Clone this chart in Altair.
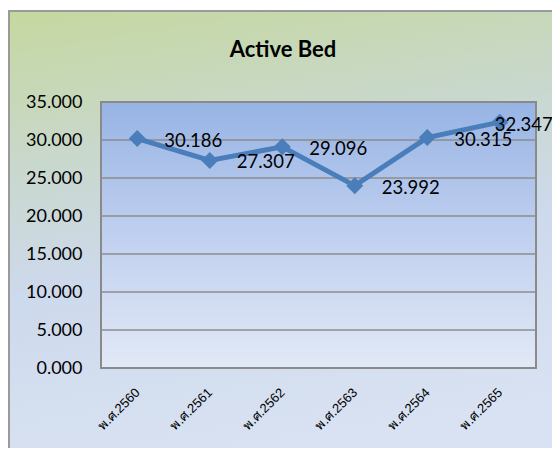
import altair as alt
import pandas as pd

categories = ["พ.ศ.2560", "พ.ศ.2561", "พ.ศ.2562", "พ.ศ.2563", "พ.ศ.2564", "พ.ศ.2565"]
values = [30.186, 27.307, 29.096, 23.992, 30.315, 32.347]
y_ticks = [0, 5, 10, 15, 20, 25, 30, 35]
grid_values = [5, 10, 15, 20, 25, 30]
title_text = "Active Bed"

df = pd.DataFrame({"cat": categories, "val": values})
grid_df = pd.DataFrame({"g": grid_values})

W, H = 435, 266
PL, PT = 93, 94
PR = 544 - PL - W
PB = 440 - PT - H

FONT = "Lato"
LINE = "#4a7ebb"

xenc = alt.X("cat:N", sort=categories, title=None,
             scale=alt.Scale(paddingInner=0, paddingOuter=0.5),
             axis=alt.Axis(labelAngle=-45, labelAlign="right", labelBaseline="middle",
                           labelFontSize=13, labelColor="#000", labelOverlap=False,
                           ticks=False, domain=False, grid=False, labelPadding=22, zindex=1))
yscale = alt.Scale(domain=[0, 35], nice=False, zero=True)
yaxis = alt.Axis(values=y_ticks, format=".3f", labelFontSize=18, labelFont=FONT,
                 labelColor="#000", ticks=False, domain=False, grid=False,
                 labelOverlap=False, labelPadding=19, zindex=1)
yenc = alt.Y("val:Q", scale=yscale, title=None, axis=yaxis)

outer_grad = alt.Gradient(gradient="linear", x1=0, y1=0, x2=0.2, y2=1, stops=[
    alt.GradientStop(color="#c5d89f", offset=0),
    alt.GradientStop(color="#c9d8cf", offset=0.35),
    alt.GradientStop(color="#cdd9ec", offset=0.6),
    alt.GradientStop(color="#d8e2f2", offset=1)])
plot_grad = alt.Gradient(gradient="linear", x1=0, y1=0, x2=0, y2=1, stops=[
    alt.GradientStop(color="#97b4e4", offset=0),
    alt.GradientStop(color="#bccdee", offset=0.45),
    alt.GradientStop(color="#e2e9f6", offset=1)])

one = alt.Data(values=[{"t": title_text}])

outer = alt.Chart(one).mark_rect(fill=outer_grad, stroke="#9a9a9a", strokeWidth=2).encode(
    x=alt.value(-PL + 1), x2=alt.value(W + PR + 20), y=alt.value(-PT + 3), y2=alt.value(H + PB + 20))
plotbg = alt.Chart(one).mark_rect(fill=plot_grad, stroke="#8a8a8a", strokeWidth=2).encode(
    x=alt.value(0), x2=alt.value(W), y=alt.value(0), y2=alt.value(H))
title = alt.Chart(one).mark_text(font=FONT, fontSize=22, fontWeight="bold", color="#000",
                                  baseline="middle", align="center").encode(
    text="t:N", x=alt.value(182), y=alt.value(-52))

grid = alt.Chart(grid_df).mark_rule(color="#8c8c8c", strokeWidth=1.5).encode(
    y=alt.Y("g:Q", scale=yscale, title=None, axis=yaxis), x=alt.value(0), x2=alt.value(W))

base = alt.Chart(df).encode(x=xenc, y=yenc)
line = base.mark_line(color=LINE, strokeWidth=5)
pts = base.mark_point(shape="diamond", filled=True, size=290, color=LINE, opacity=1)
labels = base.transform_filter(alt.datum.cat != categories[-1]).mark_text(
    font=FONT, fontSize=18.5, color="#000", align="left", baseline="middle", dx=27, dy=2).encode(
    text=alt.Text("val:Q", format=".3f"))
last_label = base.transform_filter(alt.datum.cat == categories[-1]).mark_text(
    font=FONT, fontSize=18.5, color="#000", align="left", baseline="middle", dx=-5, dy=3).encode(
    text=alt.Text("val:Q", format=".3f"))

chart = alt.layer(outer, plotbg, title, grid, line, pts, labels, last_label).properties(
    width=W, height=H,
    padding={"left": PL, "top": PT, "right": PR, "bottom": PB},
    autosize=alt.AutoSizeParams(type="none"),
).configure_view(stroke=None).configure(background="white")

chart.save("out.html", embed_options={"renderer": "svg", "actions": False})
